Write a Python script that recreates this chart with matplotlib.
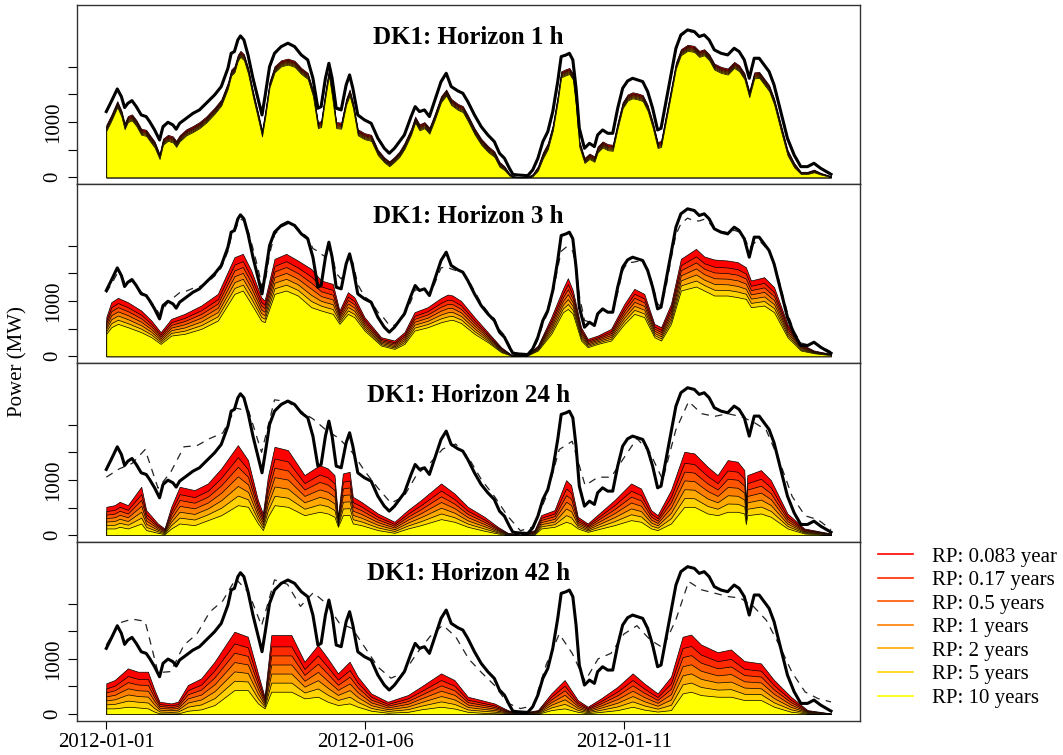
import matplotlib
matplotlib.use("Agg")
import matplotlib.pyplot as plt
from matplotlib.lines import Line2D

plt.rcParams['font.family'] = ['Liberation Serif', 'DejaVu Serif']

# ---------------------------------------------------------------- data
# hours after 2012-01-01 00:00 and observed wind power in DK1 (MW)
obs_hours = [0, 2.3, 5.1, 7.0, 8.5, 10.0, 11.9, 13.9, 16.2, 18.5,
             20.1, 22.4, 24.7, 26.3, 28.6, 30.9, 32.4, 34.0, 37.1, 40.2,
             43.2, 46.3, 50.2, 53.3, 56.4, 57.9, 59.4, 61.0, 62.2, 63.8,
             65.7, 68.0, 70.3, 72.2, 73.7, 75.7, 78.0, 81.1, 84.2, 87.3,
             90.4, 93.4, 95.8, 98.1, 99.6, 101.6, 103.2, 104.7, 106.6, 108.9,
             111.2, 112.8, 114.3, 116.6, 119.7, 122.8, 125.9, 128.9, 131.2, 133.6,
             135.9, 138.2, 141.3, 143.2, 145.2, 147.5, 149.8, 152.1, 155.2, 157.6,
             159.9, 163.0, 165.3, 167.6, 170.7, 173.8, 176.9, 179.9, 182.3, 184.6,
             186.9, 188.5, 190.8, 195.4, 197.7, 200.1, 202.4, 204.7, 207.0, 209.3,
             210.9, 213.2, 214.7, 216.3, 217.8, 219.3, 221.7, 224.0, 226.3, 227.8,
             230.1, 232.5, 234.8, 237.1, 239.4, 241.7, 244.0, 246.4, 248.7, 251.0,
             253.3, 255.6, 257.2, 259.5, 261.8, 264.1, 266.4, 269.5, 272.6, 274.9,
             277.2, 279.5, 281.9, 285.0, 288.1, 291.1, 293.4, 295.8, 298.1, 300.4,
             302.7, 305.0, 307.3, 309.6, 312.7, 315.8, 318.9, 322.0, 325.1, 328.1,
             331.2, 336.0]

obs_mw = [1190, 1371, 1600, 1461, 1262, 1340, 1389, 1280, 1129, 1099,
          1008, 857, 676, 918, 996, 948, 870, 978, 1069, 1159,
          1220, 1340, 1491, 1643, 1975, 2246, 2277, 2488, 2560, 2488,
          2216, 1793, 1431, 1129, 1491, 2005, 2246, 2367, 2428, 2367,
          2216, 2126, 1793, 1250, 1280, 1793, 2065, 1793, 1250, 1220,
          1673, 1854, 1612, 1129, 1039, 978, 707, 525, 435, 525,
          646, 767, 1099, 1280, 1190, 1220, 1099, 1371, 1733, 1884,
          1643, 1564, 1522, 1371, 1129, 918, 767, 646, 435, 344,
          163, 54, 42, 30, 133, 344, 646, 827, 1190, 1733,
          2186, 2216, 2246, 2126, 1612, 888, 525, 616, 556, 767,
          857, 797, 797, 1250, 1612, 1745, 1793, 1763, 1733, 1552,
          1250, 857, 888, 1371, 1854, 2337, 2579, 2669, 2639, 2548,
          2579, 2488, 2307, 2246, 2216, 2337, 2277, 2126, 1793, 2156,
          2156, 2035, 1914, 1673, 1190, 707, 405, 193, 193, 254,
          163, 54]

# point forecasts, horizons 1 h and 3 h (same time stamps as obs_hours)
fc_1h = [1180, 1350, 1580, 1470, 1280, 1330, 1380, 1290, 1140, 1100,
         1020, 870, 700, 890, 990, 955, 880, 970, 1060, 1150,
         1215, 1330, 1480, 1630, 1950, 2220, 2270, 2470, 2530, 2490,
         2240, 1820, 1460, 1170, 1450, 1980, 2230, 2360, 2420, 2370,
         2220, 2130, 1820, 1290, 1270, 1760, 2020, 1820, 1290, 1230,
         1650, 1830, 1630, 1150, 1040, 980, 720, 540, 445, 520,
         640, 760, 1080, 1270, 1200, 1215, 1110, 1350, 1710, 1860,
         1660, 1570, 1520, 1380, 1140, 930, 775, 650, 445, 350,
         170, 60, 45, 30, 125, 330, 630, 815, 1170, 1700,
         2160, 2210, 2230, 2140, 1640, 920, 540, 610, 560, 760,
         850, 800, 795, 1230, 1590, 1735, 1790, 1765, 1730, 1565,
         1270, 880, 880, 1350, 1830, 2310, 2560, 2640, 2630, 2550,
         2570, 2490, 2320, 2250, 2215, 2320, 2280, 2140, 1820, 2130,
         2150, 2040, 1920, 1690, 1210, 730, 420, 200, 190, 250,
         165, 60]

fc_3h = [1150, 1300, 1500, 1480, 1320, 1320, 1360, 1300, 1160, 1100,
         1020, 900, 760, 850, 980, 1050, 1100, 1150, 1180, 1230,
         1260, 1320, 1450, 1600, 1900, 2150, 2250, 2400, 2480, 2460,
         2280, 1950, 1600, 1250, 1350, 1850, 2200, 2340, 2400, 2380,
         2250, 2150, 1950, 1900, 1850, 1800, 1950, 1850, 1500, 1400,
         1650, 1750, 1700, 1300, 1080, 990, 800, 680, 560, 560,
         640, 740, 1000, 1200, 1200, 1200, 1120, 1300, 1600, 1620,
         1580, 1540, 1520, 1400, 1180, 960, 800, 680, 480, 380,
         200, 80, 50, 30, 100, 300, 580, 790, 1120, 1600,
         1900, 1975, 1960, 1900, 1600, 1100, 650, 620, 580, 720,
         840, 800, 800, 1150, 1550, 1700, 1700, 1720, 1700, 1580,
         1300, 950, 900, 1250, 1750, 2200, 2400, 2500, 2450, 2450,
         2480, 2420, 2300, 2260, 2240, 2280, 2250, 2150, 1950, 2050,
         2100, 2000, 1900, 1700, 1250, 780, 450, 240, 210, 250,
         180, 80]

# point forecasts, horizons 24 h and 42 h (every 6 h)
fc_hours = list(range(0, 337, 6))
fc_24h = [1050, 1200, 1300, 1550, 850, 1150, 1600, 1620, 1750, 1850,
          2300, 2250, 1500, 2450, 2420, 2250, 2100, 1900, 1750, 1500,
          1150, 850, 580, 700, 1100, 1300, 1560, 1650, 1400, 1000,
          700, 350, 80, 150, 700, 1550, 1700, 900, 1050, 1050,
          1400, 1750, 1500, 1000, 1900, 2420, 2200, 2150, 2200, 2150,
          2050, 1900, 1350, 700, 350, 280, 100]
fc_42h = [1250, 1650, 1720, 1680, 750, 770, 1250, 1450, 1850, 2050,
          2450, 2200, 1600, 2430, 2350, 1950, 2200, 2000, 1650, 1550,
          1200, 850, 650, 750, 1100, 1400, 1610, 1400, 1000, 750,
          520, 200, 100, 150, 900, 1450, 1100, 600, 1000, 1100,
          1450, 1600, 1350, 1200, 1700, 2400, 2250, 2190, 2130, 2100,
          1950, 1700, 1250, 750, 400, 280, 220]

# return-period bands: highest (RP 0.083 year) and lowest (RP 10 years) level
band_1h_top = [950, 1130, 1380, 1210, 980, 1110, 1140, 1040, 880, 860,
               770, 650, 420, 700, 770, 740, 660, 760, 870, 930,
               1000, 1100, 1260, 1410, 1720, 1950, 2010, 2220, 2290, 2230,
               1990, 1560, 1180, 850, 1200, 1740, 2010, 2120, 2150, 2110,
               1980, 1890, 1580, 1000, 1020, 1560, 1950, 1560, 1000, 990,
               1420, 1590, 1370, 870, 800, 770, 500, 360, 290, 370,
               470, 620, 880, 1100, 960, 1000, 900, 1130, 1470, 1590,
               1420, 1330, 1290, 1130, 890, 700, 570, 470, 280, 200,
               70, 20, 10, 10, 60, 200, 450, 620, 950, 1480,
               1920, 1960, 1980, 1880, 1380, 660, 350, 430, 380, 560,
               650, 600, 590, 1000, 1360, 1500, 1540, 1520, 1490, 1310,
               1010, 640, 660, 1130, 1600, 2080, 2320, 2400, 2380, 2290,
               2320, 2230, 2060, 2000, 1970, 2090, 2030, 1890, 1560, 1900,
               1910, 1790, 1670, 1430, 960, 500, 260, 100, 100, 140,
               80, 20]
band_1h_low = [840, 1020, 1270, 1100, 870, 1000, 1030, 930, 770, 750,
               660, 540, 330, 590, 660, 630, 550, 650, 760, 820,
               890, 990, 1150, 1300, 1610, 1840, 1900, 2110, 2180, 2120,
               1880, 1450, 1070, 740, 1090, 1630, 1900, 2010, 2040, 2000,
               1870, 1780, 1470, 890, 910, 1450, 1840, 1450, 890, 880,
               1310, 1480, 1260, 760, 690, 660, 400, 270, 200, 280,
               370, 510, 770, 990, 850, 890, 790, 1020, 1360, 1480,
               1310, 1220, 1180, 1020, 780, 590, 460, 370, 190, 130,
               30, 5, 0, 0, 20, 120, 340, 510, 840, 1370,
               1810, 1850, 1870, 1770, 1270, 550, 260, 330, 280, 450,
               540, 490, 480, 890, 1250, 1390, 1430, 1410, 1380, 1200,
               900, 530, 550, 1020, 1490, 1970, 2210, 2290, 2270, 2180,
               2210, 2120, 1950, 1890, 1860, 1980, 1920, 1780, 1450, 1790,
               1800, 1680, 1560, 1320, 850, 400, 180, 60, 60, 90,
               50, 5]

band_3h_hours = [0, 2.3, 5.4, 10.0, 16.2, 20.9, 25.2, 30.1, 36.3, 44.0,
                 51.7, 59.4, 63.3, 67.2, 71.8, 73.4, 78.0, 83.4, 88.8, 95.0,
                 99.6, 105.0, 108.1, 112.0, 115.0, 119.7, 127.4, 133.6, 138.2, 142.9,
                 149.0, 155.2, 158.3, 160.5, 164.5, 170.7, 176.9, 183.1, 187.7, 195.0,
                 200.1, 206.3, 211.7, 214.0, 216.3, 220.1, 223.2, 227.8, 234.0, 240.2,
                 244.8, 249.4, 254.1, 257.2, 261.8, 266.4, 273.4, 277.2, 281.9, 288.1,
                 292.7, 296.5, 298.9, 305.0, 309.6, 315.8, 322.0, 328.1, 336.0]
band_3h_top = [707, 978, 1057, 978, 827, 646, 435, 676, 767, 918,
               1129, 1793, 1854, 1552, 1069, 1008, 1763, 1854, 1733, 1582,
               1371, 1310, 827, 1159, 1069, 707, 344, 284, 435, 797,
               888, 1055, 1117, 1100, 1000, 707, 435, 163, 30, 20,
               193, 707, 1220, 1413, 1190, 525, 314, 374, 495, 948,
               1220, 1129, 586, 525, 948, 1763, 1944, 1806, 1751, 1733,
               1703, 1612, 1371, 1431, 1250, 586, 223, 103, 42]
band_3h_low = [405, 525, 586, 525, 435, 344, 223, 374, 405, 495,
               646, 1129, 1190, 948, 646, 616, 1129, 1190, 1099, 888,
               827, 767, 586, 767, 707, 465, 193, 133, 223, 465,
               525, 616, 646, 660, 600, 405, 254, 72, 12, 8,
               103, 405, 797, 857, 767, 284, 163, 223, 284, 586,
               767, 707, 344, 284, 586, 1190, 1262, 1190, 1099, 1099,
               1069, 1039, 888, 918, 797, 344, 103, 54, 18]

band_24h_hours = [0, 3.9, 6.2, 10.0, 16.2, 18.5, 23.9, 27.0, 30.1, 34.0,
                  40.9, 47.1, 53.3, 61.0, 65.7, 70.3, 72.6, 74.9, 78.0, 84.2,
                  91.9, 98.9, 102.7, 105.8, 107.4, 109.7, 112.8, 114.3, 118.2, 125.9,
                  133.6, 139.8, 145.9, 155.2, 161.4, 167.6, 175.3, 181.5, 186.1, 192.0,
                  198.5, 201.6, 207.8, 213.2, 215.5, 218.6, 223.2, 229.4, 235.6, 243.3,
                  247.9, 252.6, 255.6, 261.8, 268.0, 272.6, 278.8, 283.4, 288.1, 292.7,
                  295.8, 296.5, 297.2, 303.5, 308.1, 315.8, 323.6, 336.0]
band_24h_top = [513, 543, 604, 543, 876, 453, 211, 121, 513, 876,
                815, 936, 1208, 1630, 1359, 634, 392, 1057, 1600, 1540,
                1087, 1268, 1208, 1087, 332, 1117, 1147, 694, 604, 392,
                242, 453, 634, 936, 755, 513, 332, 151, 42, 10,
                91, 362, 453, 996, 906, 332, 211, 423, 634, 936,
                845, 453, 362, 815, 1510, 1480, 1238, 1087, 1359, 1329,
                1178, 600, 1087, 1178, 996, 392, 121, 30]
band_24h_low = [121, 121, 151, 121, 211, 91, 42, 18, 121, 211,
                181, 272, 362, 543, 513, 211, 91, 332, 543, 513,
                362, 423, 392, 332, 151, 362, 362, 211, 181, 91,
                42, 121, 181, 290, 242, 151, 79, 30, 6, 0,
                10, 121, 151, 242, 211, 121, 60, 121, 181, 272,
                242, 121, 91, 211, 513, 513, 392, 362, 423, 423,
                392, 200, 362, 392, 332, 121, 30, 5]

band_42h_hours = [0, 3.9, 10.0, 14.7, 19.3, 22.4, 24.7, 30.1, 33.2, 37.8,
                  44.0, 50.2, 59.4, 65.6, 70.3, 73.4, 76.5, 85.8, 91.9, 98.1,
                  102.7, 107.4, 112.8, 116.6, 122.8, 130.5, 139.8, 145.9, 155.2, 161.4,
                  167.6, 173.8, 179.9, 186.1, 190.8, 200.1, 206.3, 212.5, 218.6, 223.2,
                  229.4, 237.1, 244.0, 249.4, 255.6, 261.8, 267.2, 271.1, 275.7, 283.4,
                  289.6, 295.8, 303.5, 309.6, 317.4, 325.1, 336.0]
band_42h_top = [556, 616, 827, 767, 767, 435, 223, 193, 223, 525,
                646, 948, 1491, 1401, 737, 314, 1431, 1431, 948, 1250,
                1008, 737, 948, 676, 374, 223, 344, 495, 737, 616,
                314, 254, 193, 72, 12, 72, 374, 616, 254, 133,
                284, 495, 737, 556, 374, 676, 1400, 1440, 1260, 1120,
                1170, 960, 918, 616, 314, 72, 12]
band_42h_low = [103, 103, 133, 120, 103, 42, 12, 10, 12, 60,
                85, 163, 435, 435, 193, 103, 405, 405, 284, 314,
                223, 163, 193, 133, 60, 24, 40, 85, 133, 100,
                40, 25, 15, 5, 0, 5, 72, 103, 40, 15,
                40, 72, 133, 80, 45, 72, 374, 405, 344, 314,
                314, 254, 254, 133, 42, 10, 0]

# relative position of each return-period level between the top and low level
rp_labels = ["RP: 0.083 year", "RP: 0.17 years", "RP: 0.5 years", "RP: 1 years",
             "RP: 2 years", "RP: 5 years", "RP: 10 years"]
rp_position = [0.0, 0.2, 0.36, 0.52, 0.68, 0.84, 1.0]
rp_colors = ["#FF0000", "#FF2A00", "#FF5500", "#FF7F00", "#FFAA00", "#FFD400", "#FFFF00"]

horizons = [1, 3, 24, 42]
date_ticks = [0, 120, 240]
date_labels = ["2012-01-01", "2012-01-06", "2012-01-11"]

panels = [
    (obs_hours, fc_1h, obs_hours, band_1h_top, band_1h_low),
    (obs_hours, fc_3h, band_3h_hours, band_3h_top, band_3h_low),
    (fc_hours, fc_24h, band_24h_hours, band_24h_top, band_24h_low),
    (fc_hours, fc_42h, band_42h_hours, band_42h_top, band_42h_low),
]

# ---------------------------------------------------------------- figure
W, H = 1063, 755
fig = plt.figure(figsize=(W / 100, H / 100), dpi=100)
left, right = 77.3 / W, 860 / W
top, bottom = 1 - 5 / H, 1 - 720.7 / H
ph = (top - bottom) / 4

for i, (hz, (fh, fv, bh, btop, blow)) in enumerate(zip(horizons, panels)):
    ax = fig.add_axes([left, top - (i + 1) * ph, right - left, ph])

    for k, (pos, col) in enumerate(zip(rp_position, rp_colors)):
        level = [t + (l - t) * pos for t, l in zip(btop, blow)]
        ax.fill_between(bh, 0, level, facecolor=col, edgecolor="black",
                        linewidth=0.5, zorder=2 + k * 0.01)

    ax.plot(fh, fv, color="#222222", linestyle=(0, (6, 5)), linewidth=0.9, zorder=4)
    ax.plot(obs_hours, obs_mw, color="black", linewidth=2.2, zorder=5,
            solid_joinstyle="round")

    ax.set_xlim(-0.04 * 336, 336 * 1.04)
    ax.set_ylim(-120, 3120)

    ax.set_yticks([0, 500, 1000, 1500, 2000])
    ax.set_yticklabels(["0", "", "1000", "", ""], rotation=90, va="center")
    ax.tick_params(axis="y", direction="out", length=6.5, width=0.8,
                   labelsize=15, pad=4)

    if i == 3:
        ax.set_xticks(date_ticks)
        ax.set_xticklabels(date_labels)
        ax.tick_params(axis="x", direction="out", length=6, width=0.8,
                       labelsize=15, pad=3)
    else:
        ax.set_xticks([])

    for sp in ax.spines.values():
        sp.set_linewidth(1.0)
        sp.set_color("#333333")

    ax.text(0.5, 0.82, f"DK1: Horizon {hz} h", transform=ax.transAxes,
            ha="center", va="center", fontsize=18, fontweight="bold", zorder=6)

fig.text(17.7 / W, 1 - 362 / H, "Power (MW)", rotation=90,
         ha="center", va="center", fontsize=15)

handles = [Line2D([], [], color=c, linewidth=1.2) for c in rp_colors]
fig.legend(handles, rp_labels, loc="upper left",
           bbox_to_anchor=(878 / W, 1 - 547 / H), frameon=False, fontsize=15,
           handlelength=1.7, handletextpad=0.9, labelspacing=0.19,
           borderpad=0, borderaxespad=0)

fig.savefig("out.png", dpi=100)
